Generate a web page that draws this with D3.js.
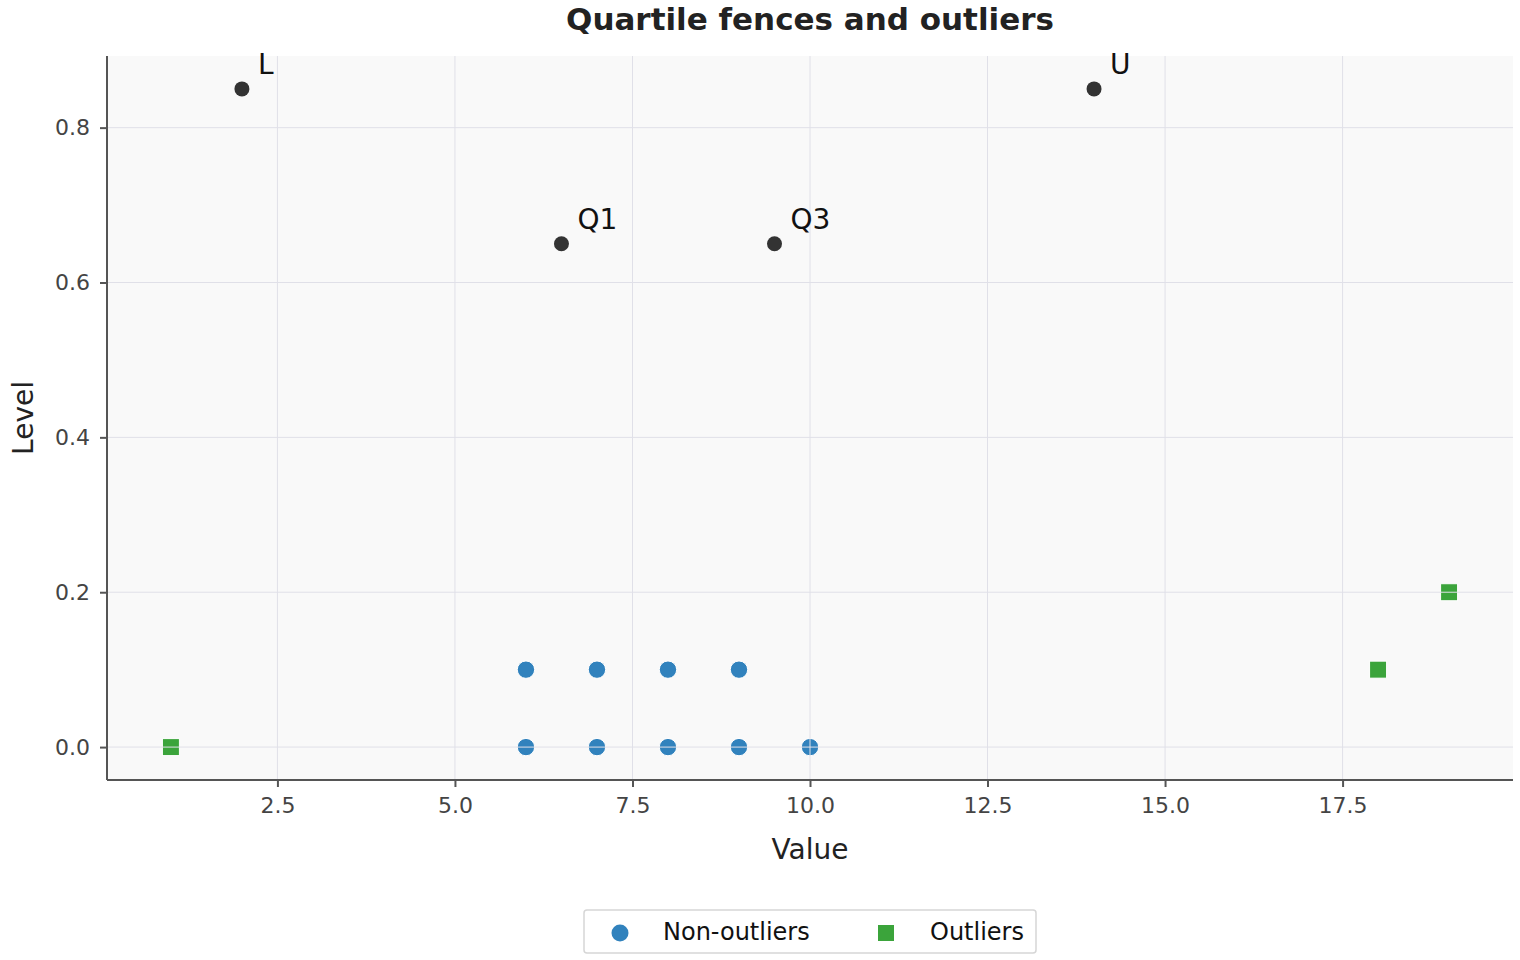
<!DOCTYPE html>
<html>
<head>
<meta charset="utf-8">
<script src="https://cdn.jsdelivr.net/npm/d3@7"></script>
<style>
  body { margin: 0; background: #fff; }
  text { font-family: "DejaVu Sans", sans-serif; }
</style>
</head>
<body>
<svg id="chart" width="1520" height="960"></svg>
<script>
// data
var inlierX = [6, 7, 8, 9, 6, 7, 8, 9, 10];
var inlierY = [0.1, 0.1, 0.1, 0.1, 0, 0, 0, 0, 0];
var outlierX = [1, 18, 19];
var outlierY = [0, 0.1, 0.2];
var fenceNames = ["L", "Q1", "Q3", "U"];
var fenceX = [2, 6.5, 9.5, 14];
var fenceY = [0.85, 0.65, 0.65, 0.85];
var xTicks = [2.5, 5.0, 7.5, 10.0, 12.5, 15.0, 17.5];
var yTicks = [0.0, 0.2, 0.4, 0.6, 0.8];

var svg = d3.select("#chart");
// plot box (named so as not to clash with window.top)
var pLeft = 107, pRight = 1513, pTop = 56, pBottom = 780;

var x = d3.scaleLinear().domain([0.1, 19.9]).range([pLeft, pRight]);
var y = d3.scaleLinear().domain([-0.0425, 0.8925]).range([pBottom, pTop]);

// plot background
svg.append("rect")
  .attr("x", pLeft).attr("y", pTop)
  .attr("width", pRight - pLeft).attr("height", pBottom - pTop)
  .attr("fill", "#f9f9f9");

// points
var pts = svg.append("g");
pts.selectAll("circle.in")
  .data(d3.zip(inlierX, inlierY))
  .enter().append("circle")
  .attr("class", "in")
  .attr("cx", function(d){ return x(d[0]); })
  .attr("cy", function(d){ return y(d[1]); })
  .attr("r", 8.7)
  .attr("fill", "#3182bd")
  .attr("stroke", "#fff").attr("stroke-width", 1);

pts.selectAll("rect.out")
  .data(d3.zip(outlierX, outlierY))
  .enter().append("rect")
  .attr("class", "out")
  .attr("x", function(d){ return x(d[0]) - 8.5; })
  .attr("y", function(d){ return y(d[1]) - 8.5; })
  .attr("width", 17).attr("height", 17)
  .attr("fill", "#3ba43b")
  .attr("stroke", "#fff").attr("stroke-width", 1);

// grid drawn above the markers, as in the reference
var grid = svg.append("g").attr("stroke", "#e0e0e8").attr("stroke-width", 1);
grid.selectAll("line.gx").data(xTicks).enter().append("line")
  .attr("x1", function(d){ return x(d); }).attr("x2", function(d){ return x(d); })
  .attr("y1", pTop).attr("y2", pBottom);
grid.selectAll("line.gy").data(yTicks).enter().append("line")
  .attr("y1", function(d){ return y(d); }).attr("y2", function(d){ return y(d); })
  .attr("x1", pLeft).attr("x2", pRight);

// fence points + labels
var fences = svg.append("g");
fences.selectAll("circle")
  .data(d3.range(fenceX.length))
  .enter().append("circle")
  .attr("cx", function(i){ return x(fenceX[i]); })
  .attr("cy", function(i){ return y(fenceY[i]); })
  .attr("r", 7.5)
  .attr("fill", "#333");
fences.selectAll("text")
  .data(d3.range(fenceX.length))
  .enter().append("text")
  .attr("x", function(i){ return x(fenceX[i]) + 16; })
  .attr("y", function(i){ return y(fenceY[i]) - 15; })
  .attr("font-size", 28)
  .attr("fill", "#111")
  .text(function(i){ return fenceNames[i]; });

// axes
var xAxis = svg.append("g")
  .attr("transform", "translate(0," + pBottom + ")")
  .call(d3.axisBottom(x).tickValues(xTicks).tickFormat(d3.format(".1f")).tickSize(7).tickPadding(10));
var yAxis = svg.append("g")
  .attr("transform", "translate(" + pLeft + ",0)")
  .call(d3.axisLeft(y).tickValues(yTicks).tickFormat(d3.format(".1f")).tickSize(7).tickPadding(10));

[xAxis, yAxis].forEach(function(a){
  a.attr("font-size", 22).attr("font-family", "DejaVu Sans, sans-serif");
  a.select(".domain").attr("stroke", "#555").attr("stroke-width", 2);
  a.selectAll(".tick line").attr("stroke", "#555").attr("stroke-width", 2);
  a.selectAll(".tick text").attr("fill", "#444");
});
// keep the axis lines flush, without the end caps d3 adds
xAxis.select(".domain").attr("d", "M" + pLeft + ",0H" + pRight);
yAxis.select(".domain").attr("d", "M0," + pTop + "V" + pBottom);

// titles
svg.append("text")
  .attr("x", 810).attr("y", 30)
  .attr("text-anchor", "middle")
  .attr("font-size", 31).attr("font-weight", "bold")
  .attr("fill", "#222")
  .text("Quartile fences and outliers");
svg.append("text")
  .attr("x", 810).attr("y", 859)
  .attr("text-anchor", "middle")
  .attr("font-size", 28).attr("fill", "#222")
  .text("Value");
svg.append("text")
  .attr("transform", "translate(33," + ((pTop + pBottom) / 2) + ") rotate(-90)")
  .attr("text-anchor", "middle")
  .attr("font-size", 28).attr("fill", "#222")
  .text("Level");

// legend
var lg = svg.append("g").attr("transform", "translate(584,910)");
lg.append("rect")
  .attr("width", 452).attr("height", 43).attr("rx", 3)
  .attr("fill", "#fff").attr("stroke", "#d6d6d6").attr("stroke-width", 1.5);
lg.append("circle").attr("cx", 36).attr("cy", 23).attr("r", 8.5).attr("fill", "#3182bd");
lg.append("text").attr("x", 79).attr("y", 30).attr("font-size", 24).attr("fill", "#111").text("Non-outliers");
lg.append("rect").attr("x", 294).attr("y", 15).attr("width", 16).attr("height", 16).attr("fill", "#3ba43b");
lg.append("text").attr("x", 346).attr("y", 30).attr("font-size", 24).attr("fill", "#111").text("Outliers");
</script>
</body>
</html>
